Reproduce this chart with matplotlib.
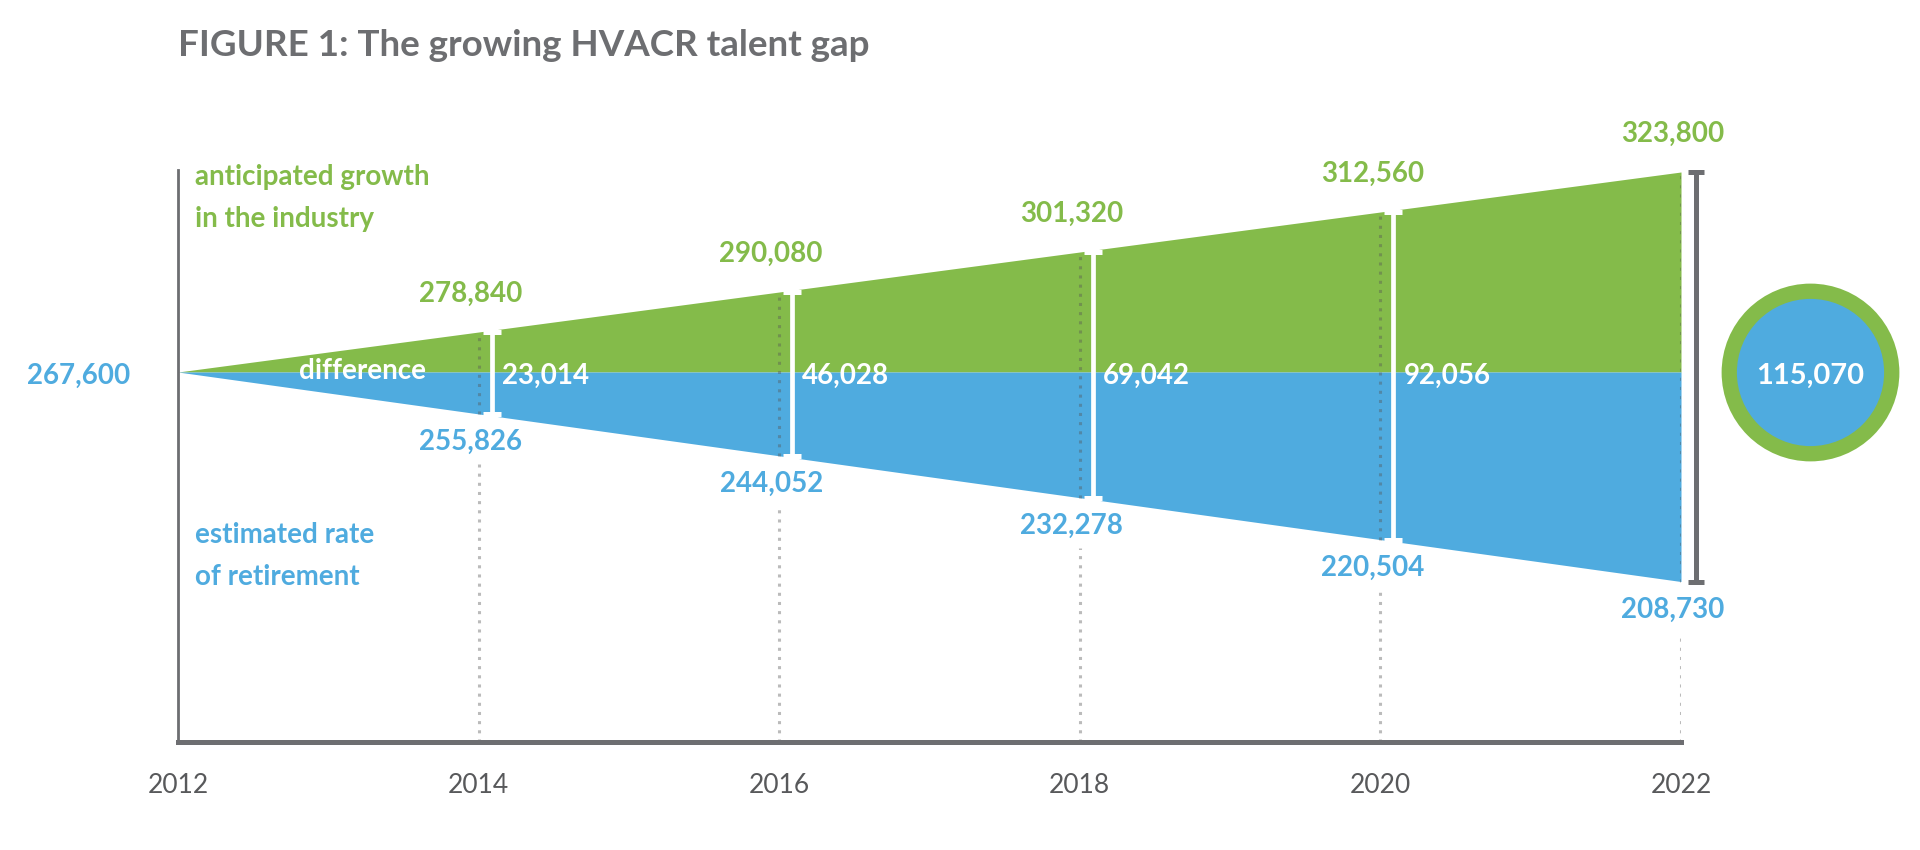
import matplotlib
matplotlib.use("Agg")
import matplotlib.pyplot as plt
from matplotlib import transforms

# values
years = [2012, 2014, 2016, 2018, 2020, 2022]
growth = [267600, 278840, 290080, 301320, 312560, 323800]
retirement = [267600, 255826, 244052, 232278, 220504, 208730]
difference = [0, 23014, 46028, 69042, 92056, 115070]

title = "FIGURE 1: The growing HVACR talent gap"
growth_label = "anticipated growth\nin the industry"
retire_label = "estimated rate\nof retirement"
diff_label = "difference"

GREEN = "#84bb4a"
BLUE = "#4fabdf"
GREY = "#6d6e71"
YEAR_GREY = "#58595b"

plt.rcParams["font.family"] = ["Lato", "DejaVu Sans"]

fig = plt.figure(figsize=(19.2, 8.5), dpi=100)
ax = fig.add_axes([178 / 1920, 108 / 850, 1503 / 1920, 572 / 850])
ax.set_xlim(years[0], years[-1])
y_lo, y_hi = 163_640, 324_360
ax.set_ylim(y_lo, y_hi)
base = growth[0]


def shift(dx=0, dy=0):
    # data position nudged by a few pixels
    return transforms.offset_copy(ax.transData, fig=fig, x=dx, y=dy, units="dots")


# the two wedges
ax.fill_between(years, base, growth, color=GREEN, lw=0, zorder=1)
ax.fill_between(years, retirement, base, color=BLUE, lw=0, zorder=1)

# dotted year guides, broken under the blue labels
px_per_unit = 572 / (y_hi - y_lo)
gap = 50 / px_per_unit
dot_style = dict(colors="#555555", alpha=0.4, linewidths=2.2, linestyles=(0, (1, 2)), zorder=2)
ax.vlines(years[1:], y_lo, [r - gap for r in retirement[1:]], **dot_style)
ax.vlines(years[1:], retirement[1:], growth[1:], **dot_style)

# white difference bars
for x, g, r, d in zip(years[1:-1], growth[1:-1], retirement[1:-1], difference[1:-1]):
    ax.plot([x, x], [r, g], color="white", lw=3.4, marker="_", ms=13, mew=3.6,
            solid_capstyle="butt", transform=shift(13), zorder=3)
    ax.text(x, base, f"{d:,}", transform=shift(23, -4), ha="left", va="center",
            color="white", fontsize=20, fontweight="bold", zorder=4)

# value labels
for x, g, r in zip(years[1:], growth[1:], retirement[1:]):
    ax.text(x, g, f"{g:,}", transform=shift(-8, 38), ha="center", va="center",
            color=GREEN, fontsize=20, fontweight="bold", zorder=4)
    ax.text(x, r, f"{r:,}", transform=shift(-8, -28), ha="center", va="center",
            color=BLUE, fontsize=20, fontweight="bold", zorder=4)

ax.text(years[0], base, f"{base:,}", transform=shift(-48, -4), ha="right", va="center",
        color=BLUE, fontsize=20, fontweight="bold")
ax.text(years[1], base, diff_label, transform=shift(-116, 1), ha="center", va="center",
        color="white", fontsize=20, fontweight="bold", zorder=4)

# total gap bar and circle on the right
ax.plot([years[-1]] * 2, [retirement[-1], growth[-1]], color=GREY, lw=3.6, marker="_",
        ms=12, mew=3.6, solid_capstyle="butt", transform=shift(15), clip_on=False)
ax.plot(years[-1], base, "o", ms=128, color=GREEN, mew=0, transform=shift(129), clip_on=False)
ax.plot(years[-1], base, "o", ms=106, color=BLUE, mew=0, transform=shift(129), clip_on=False)
ax.text(years[-1], base, f"{difference[-1]:,}", transform=shift(129, -4), ha="center",
        va="center", color="white", fontsize=21, fontweight="bold")

# series captions
ax.text(0.011, 1.01, growth_label, transform=ax.transAxes, ha="left", va="top",
        color=GREEN, fontsize=20, fontweight="bold", linespacing=1.75)
ax.text(0.011, 0.385, retire_label, transform=ax.transAxes, ha="left", va="top",
        color=BLUE, fontsize=20, fontweight="bold", linespacing=1.75)

# axes styling
for side in ("top", "right"):
    ax.spines[side].set_visible(False)
ax.spines["left"].set_color(GREY)
ax.spines["left"].set_linewidth(2)
ax.spines["bottom"].set_color(GREY)
ax.spines["bottom"].set_linewidth(3.6)
ax.set_xticks(years)
ax.set_xticklabels([str(y) for y in years])
ax.set_yticks([])
ax.tick_params(axis="x", length=0, pad=22, labelsize=19, labelcolor=YEAR_GREY)

fig.text(178 / 1920, 1 - 46 / 850, title, ha="left", va="center",
         fontsize=26.5, fontweight="bold", color=GREY)

fig.savefig("out.png", dpi=100)
